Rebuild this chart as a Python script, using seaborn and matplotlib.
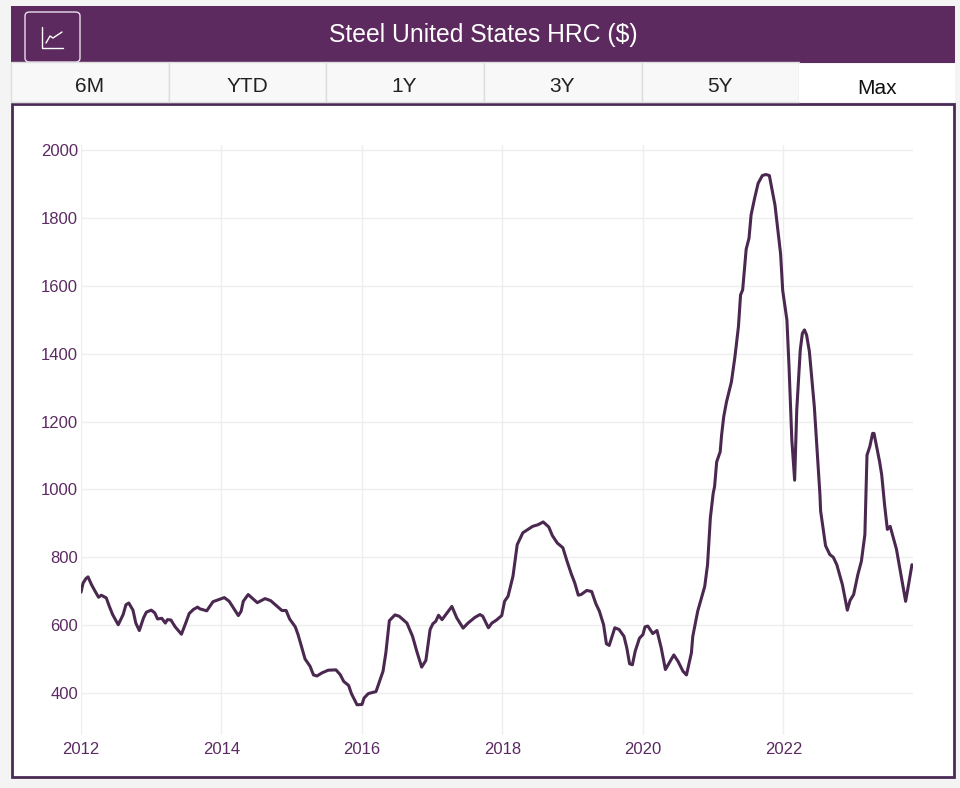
import matplotlib
matplotlib.use("Agg")
import matplotlib.pyplot as plt
from matplotlib.patches import Rectangle, FancyBboxPatch
from matplotlib.lines import Line2D
import pandas as pd
import seaborn as sns

title = "Steel United States HRC ($)"
tabs = ["6M", "YTD", "1Y", "3Y", "5Y", "Max"]
x_ticks = [2012, 2014, 2016, 2018, 2020, 2022]
y_ticks = [400, 600, 800, 1000, 1200, 1400, 1600, 1800, 2000]

years = [
    2012.00, 2012.03, 2012.07, 2012.10, 2012.15, 2012.20, 2012.25, 2012.29, 2012.36, 2012.40,
    2012.45, 2012.53, 2012.60, 2012.64, 2012.68, 2012.74, 2012.78, 2012.83, 2012.89, 2012.93,
    2013.00, 2013.05, 2013.09, 2013.15, 2013.20, 2013.23, 2013.28, 2013.34, 2013.43, 2013.50,
    2013.54, 2013.60, 2013.66, 2013.69, 2013.79, 2013.88, 2014.04, 2014.11, 2014.24, 2014.28,
    2014.31, 2014.38, 2014.51, 2014.62, 2014.70, 2014.86, 2014.92, 2014.97, 2015.05, 2015.09,
    2015.19, 2015.26, 2015.31, 2015.36, 2015.43, 2015.52, 2015.63, 2015.69, 2015.74, 2015.81,
    2015.85, 2015.93, 2016.00, 2016.03, 2016.09, 2016.20, 2016.30, 2016.34, 2016.39, 2016.47,
    2016.53, 2016.64, 2016.72, 2016.78, 2016.85, 2016.91, 2016.97, 2017.01, 2017.05, 2017.09,
    2017.14, 2017.28, 2017.35, 2017.44, 2017.51, 2017.61, 2017.68, 2017.72, 2017.80, 2017.85,
    2017.91, 2017.99, 2018.03, 2018.08, 2018.15, 2018.21, 2018.29, 2018.43, 2018.51, 2018.58,
    2018.66, 2018.71, 2018.78, 2018.86, 2018.92, 2018.98, 2019.03, 2019.08, 2019.12, 2019.20,
    2019.27, 2019.33, 2019.38, 2019.44, 2019.48, 2019.52, 2019.60, 2019.66, 2019.73, 2019.77,
    2019.81, 2019.85, 2019.89, 2019.95, 2020.00, 2020.03, 2020.07, 2020.14, 2020.20, 2020.26,
    2020.32, 2020.44, 2020.50, 2020.57, 2020.62, 2020.69, 2020.71, 2020.78, 2020.88, 2020.92,
    2020.96, 2021.00, 2021.02, 2021.05, 2021.10, 2021.12, 2021.15, 2021.19, 2021.26, 2021.31,
    2021.36, 2021.39, 2021.42, 2021.47, 2021.51, 2021.54, 2021.59, 2021.64, 2021.70, 2021.75,
    2021.80, 2021.88, 2021.96, 2021.99, 2022.05, 2022.08, 2022.12, 2022.16, 2022.19, 2022.24,
    2022.27, 2022.30, 2022.33, 2022.37, 2022.44, 2022.48, 2022.52, 2022.53, 2022.60, 2022.66,
    2022.71, 2022.76, 2022.84, 2022.91, 2022.95, 2023.00, 2023.06, 2023.11, 2023.16, 2023.18,
    2023.19, 2023.23, 2023.27, 2023.29, 2023.37, 2023.40, 2023.44, 2023.48, 2023.52, 2023.61,
    2023.66, 2023.74, 2023.77, 2023.83,
]
prices = [
    697, 724, 737, 742, 719, 700, 682, 688, 680, 657,
    631, 601, 631, 660, 665, 644, 606, 584, 621, 638,
    644, 636, 618, 620, 606, 616, 615, 595, 573, 611,
    634, 646, 653, 648, 642, 669, 681, 670, 628, 641,
    670, 690, 666, 678, 672, 643, 643, 618, 595, 572,
    500, 479, 453, 450, 459, 467, 468, 454, 434, 422,
    398, 365, 366, 385, 398, 404, 464, 518, 613, 630,
    626, 606, 567, 523, 476, 496, 587, 604, 611, 629,
    616, 655, 621, 591, 606, 623, 631, 626, 592, 606,
    614, 628, 670, 685, 744, 837, 872, 891, 896, 904,
    889, 864, 842, 828, 788, 751, 724, 688, 690, 702,
    699, 663, 641, 601, 545, 540, 592, 587, 567, 533,
    486, 483, 523, 561, 572, 595, 597, 575, 584, 533,
    469, 512, 493, 464, 453, 518, 567, 641, 714, 778,
    916, 988, 1008, 1081, 1111, 1160, 1214, 1258, 1317, 1391,
    1480, 1573, 1588, 1708, 1740, 1809, 1858, 1902, 1925, 1928,
    1925, 1838, 1694, 1586, 1499, 1362, 1145, 1027, 1234, 1411,
    1460, 1470, 1455, 1406, 1244, 1116, 985, 936, 834, 808,
    800, 778, 719, 644, 673, 690, 749, 788, 867, 1029,
    1101, 1126, 1165, 1165, 1081, 1042, 955, 882, 891, 823,
    764, 670, 705, 778,
]

PURPLE = "#5c2a5f"
LINE = "#4a2850"
FRAME = "#4b2a55"
TICK = "#5c2a63"
W, H = 960, 788

sns.set_theme(style="white")
plt.rcParams["font.family"] = ["Liberation Sans", "DejaVu Sans"]

fig = plt.figure(figsize=(W / 100, H / 100), dpi=100, facecolor="#f4f4f4")


def fx(px):
    return px / W


def fy(py):
    return 1 - py / H


def rect(x0, y0, x1, y1, **kw):
    fig.add_artist(Rectangle((fx(x0), fy(y1)), (x1 - x0) / W, (y1 - y0) / H,
                             transform=fig.transFigure, **kw))


# header band and tabs
rect(11, 6, 955, 63, facecolor=PURPLE, edgecolor="none", zorder=1)
edges = [11, 169, 326, 484, 642, 799, 955]
centers = [90, 247, 404, 562, 720, 877]
for i, lab in enumerate(tabs):
    active = lab == "Max"
    rect(edges[i], 64 if active else 62, edges[i + 1], 102,
         facecolor="white" if active else "#f8f8f8",
         edgecolor="none" if active else "#dddddd", linewidth=1, zorder=2)
    fig.text(fx(centers[i]), fy(88.5 if active else 87), lab, ha="center", va="center",
             fontsize=15, color="#222222" if not active else "#111111", zorder=3)
fig.text(fx(483.5), fy(35), title, ha="center", va="center", fontsize=17.8,
         color="white", zorder=3)

# icon button
fig.add_artist(FancyBboxPatch((fx(25), fy(62)), 55 / W, 50 / H,
                              boxstyle="round,pad=0,rounding_size=0.005",
                              transform=fig.transFigure, facecolor=PURPLE,
                              edgecolor="#e8e0ea", linewidth=1, zorder=3))
fig.add_artist(Line2D([fx(42), fx(42), fx(63)], [fy(27), fy(48), fy(48)],
                      transform=fig.transFigure, color="white", lw=1, zorder=4))
fig.add_artist(Line2D([fx(46), fx(50), fx(53), fx(62)], [fy(43), fy(36), fy(38), fy(32)],
                      transform=fig.transFigure, color="white", lw=1, zorder=4))

# chart frame
rect(12, 104, 954, 777, facecolor="white", edgecolor=FRAME, linewidth=2, zorder=1)

# plot area: x 81..913 px, y 145..735 px
ax = fig.add_axes([fx(81), fy(735), (913 - 81) / W, (735 - 145) / H], zorder=5)
ax.patch.set_alpha(0)

df = pd.DataFrame({"year": years, "price": prices})
sns.lineplot(data=df, x="year", y="price", ax=ax, color=LINE, linewidth=2.2,
             estimator=None, sort=False, zorder=3)

ax.set_xlim(2012, 2023.845)
ax.set_ylim(276, 2015)
ax.set_xticks(x_ticks)
ax.set_yticks(y_ticks)
ax.set_xlabel("")
ax.set_ylabel("")
ax.grid(True, color="#eeeeee", linewidth=1)
ax.set_axisbelow(True)
for s in ax.spines.values():
    s.set_visible(False)
ax.tick_params(axis="both", length=0, labelsize=12, labelcolor=TICK)
ax.tick_params(axis="x", pad=5)
ax.tick_params(axis="y", pad=2)

fig.savefig("out.png", dpi=100, facecolor=fig.get_facecolor())
